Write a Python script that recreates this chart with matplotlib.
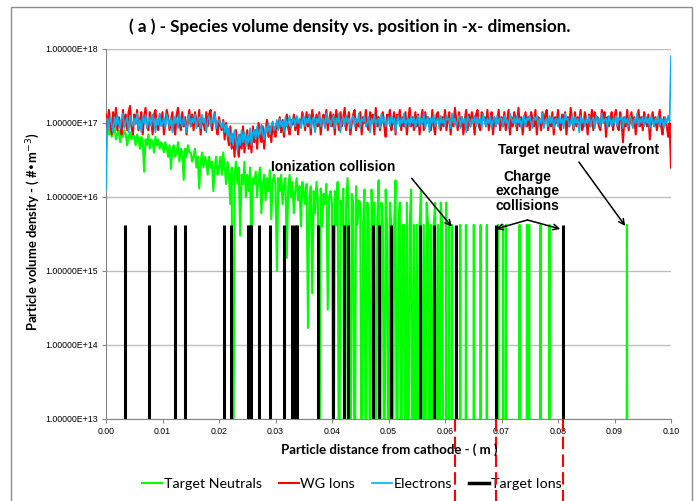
import numpy as np
import matplotlib
matplotlib.use("Agg")
import matplotlib.pyplot as plt
from matplotlib.patches import Rectangle
from matplotlib.ticker import FuncFormatter, NullLocator, LogLocator

# sampling step of the density profiles (m)
STEP = 0.00025

# WG Ions density, units of 1e16 #/m3, one value per STEP from 0 to 0.1
wg_ions = [
    13, 8, 15, 11, 7, 14, 9, 16, 8, 12, 10, 7, 15, 9, 13, 8, 14, 17, 9, 7,
    13, 10, 15, 8, 11, 14, 7, 12, 16, 9, 8, 14, 11, 7, 13, 15, 9, 8, 13, 10,
    14, 7, 10, 15, 12, 8, 11, 14, 9, 7, 13, 16, 10, 8, 14, 9, 12, 7, 11, 15,
    9, 13, 8, 14, 11, 9, 15, 7, 12, 10, 8, 14, 9, 13, 15, 8, 11, 14, 9, 7,
    12, 9, 8, 11, 6, 10, 7, 5, 9, 4.5, 7, 3.5, 8, 5, 3.5, 7, 4.5, 9, 4, 6,
    8, 4.5, 7, 4, 9, 5.5, 8, 4.5, 10, 6.5, 5.5, 9, 4.5, 8, 11, 6.5, 9, 5.5, 10, 7.5,
    6.5, 10, 8.5, 12, 7.5, 11, 6.5, 10, 13, 8.5, 7, 11, 9.5, 13, 8, 12, 7, 11, 9.5, 14,
    11, 8, 14, 9, 13, 7, 15, 11, 8, 13, 9, 14, 7, 11, 13, 9, 15, 8, 11, 14,
    9, 13, 7, 15, 11, 8, 14, 9, 12, 16, 8, 11, 14, 7, 10, 13, 15, 8, 11, 9,
    14, 7, 12, 10, 15, 9, 8, 14, 11, 13, 7, 16, 9, 12, 8, 11, 14, 9, 6.5, 13,
    11, 15, 8, 10, 14, 7, 13, 11, 15, 8, 12, 9, 14, 7, 11, 16, 9, 12, 8, 14,
    9, 13, 7, 11, 15, 8, 14, 10, 12, 11, 8, 15, 9, 7, 13, 14, 10, 8, 12, 9,
    15, 8, 11, 14, 7, 12, 9, 16, 11, 8, 14, 9, 12, 7, 11, 15, 8, 13, 9, 14,
    11, 7, 13, 15, 9, 8, 14, 11, 12, 9, 15, 8, 11, 14, 7, 12, 9, 11, 15, 8,
    12, 9, 14, 8, 11, 15, 7, 12, 9, 14, 11, 8, 16, 9, 12, 7, 11, 14, 9, 12,
    8, 14, 11, 9, 15, 7, 12, 11, 8, 14, 9, 13, 15, 8, 11, 9, 14, 7, 12, 10,
    15, 9, 8, 13, 11, 14, 7, 12, 9, 16, 11, 8, 14, 9, 12, 10, 15, 8, 9, 14,
    11, 7, 13, 9, 15, 8, 14, 11, 12, 9, 8, 15, 11, 14, 6.5, 12, 9, 11, 14, 8,
    12, 15, 9, 8, 14, 11, 5.5, 12, 9, 15, 8, 11, 14, 9, 12, 7, 11, 15, 9, 12,
    8, 14, 11, 9, 13, 6, 11, 14, 9, 12, 8, 11, 15, 9, 7, 12, 11, 9, 6.5, 10,
    2.5,
]

# Electrons density, units of 1e16 #/m3
electrons = [
    1.3, 11.5, 8.5, 12.5, 10, 7.5, 12, 9, 13, 10, 8.5, 11.5, 13.5, 8.5, 10.5, 12, 7.5, 12.5, 10, 9,
    11.5, 9.5, 13.5, 8.5, 11, 7.5, 12, 10, 13, 8.5, 10.5, 12, 9, 13, 10, 7.5, 11.5, 9.5, 13.5, 9,
    10, 12, 8.5, 13, 11, 9, 11.5, 7.5, 12.5, 10, 11.5, 8.5, 13.5, 10, 9, 12, 10, 7.5, 11.5, 13,
    9, 11.5, 10, 13, 8.5, 11, 12, 8.5, 13, 10, 11.5, 7.5, 11, 12.5, 9, 11.5, 10, 13.5, 8.5, 10.5,
    11, 9.5, 8.5, 10.5, 7.5, 9.5, 6.5, 8.5, 5.5, 7.5, 5, 8, 6, 4.2, 7, 5, 8, 5.5, 7.5, 4.8,
    7, 5.5, 8.5, 5, 7.5, 8, 6, 9, 6.5, 8, 9.5, 7, 6, 9, 7.5, 10, 7, 9, 10.5, 8,
    9, 11, 8, 11.5, 9, 10.5, 7.5, 12, 9, 10.5, 12.5, 8.5, 11, 11.5, 9, 12.5, 10, 11.5, 8.5, 11,
    12.5, 9, 11.5, 10, 13, 8.5, 11, 12, 7.5, 11.5, 10, 13, 9, 11, 11.5, 8.5, 13.5, 10, 11.5, 9,
    11, 12.5, 8.5, 11.5, 10, 13.5, 7.5, 11, 12, 9, 12.5, 10, 11.5, 8.5, 11, 12.5, 9, 11.5, 10, 13.5,
    8.5, 11.5, 10.5, 12.5, 9, 10, 12, 7.5, 11.5, 10, 13, 9, 11, 11.5, 8.5, 13.5, 10, 12, 9, 10.5,
    12, 9, 12.5, 10, 11.5, 7.5, 11, 12.5, 9, 11.5, 10, 13.5, 8.5, 11, 11.5, 9, 12.5, 10, 12, 8.5,
    11, 12.5, 9, 11.5, 10, 13.5, 8.5, 11, 12, 7.5, 11.5, 10, 13, 9, 11, 11.5, 8.5, 12.5, 10, 11.5,
    9, 12.5, 11, 11.5, 8.5, 13.5, 10, 11.5, 9, 11, 12.5, 8.5, 12, 10, 11.5, 7.5, 12.5, 11, 9, 11.5,
    10, 12.5, 9, 12, 10, 11.5, 8.5, 13.5, 11, 9, 11.5, 10, 12.5, 8.5, 11, 12, 9, 12.5, 10, 11.5,
    11.5, 9, 12.5, 10, 11, 8.5, 13.5, 11.5, 10, 12, 9, 12.5, 10, 11.5, 8.5, 11, 12.5, 9, 11.5, 11,
    12.5, 10, 8.5, 12, 11, 12.5, 9, 11.5, 10, 13.5, 8.5, 11, 11.5, 9, 12.5, 10, 12, 8.5, 11, 11.5,
    9, 12.5, 10, 11.5, 8.5, 13.5, 11, 11.5, 9, 10, 12.5, 8.5, 12, 10, 11.5, 7.5, 12.5, 10, 11.5, 9,
    11.5, 10, 12.5, 9, 11, 12, 8.5, 12.5, 10, 11.5, 9, 13.5, 10, 11, 11.5, 8.5, 12.5, 11, 9, 11.5,
    10, 12.5, 9, 11.5, 11, 12.5, 8.5, 12, 10, 11.5, 9, 12.5, 11, 8.5, 11.5, 10, 13.5, 9, 11.5, 10,
    12, 9, 12.5, 10, 11.5, 8.5, 12.5, 11, 9, 11.5, 10, 12.5, 9, 11.5, 11, 8.5, 12, 10, 12.5, 10.5,
    80,
]

# Target Neutrals density, units of 1e16 #/m3, dense part from 0 to ~0.06 m
target_neutrals = [
    10, 8, 7, 8.5, 6.5, 7.5, 9, 6, 7, 8, 5.5, 7.5, 6.5, 8, 7, 5, 6.5, 7.5, 6, 7,
    6.5, 5, 7, 6, 4.5, 6.5, 5.5, 2.2, 6, 5, 7, 4.5, 6, 5.5, 4, 6.5, 5, 6, 4.5, 5.5,
    5, 4, 5.5, 4.5, 3.5, 5, 2.4, 4.5, 5, 3.5, 4, 5.5, 3, 4.5, 4, 1.7, 4.5, 3.5, 5, 4,
    4, 3, 3.5, 4.5, 2.5, 3.5, 1.3, 3, 4, 2.5, 3.5, 3, 2, 3.5, 2.5, 3, 1.2, 2.5, 3.5, 2,
    2.5, 3.5, 2, 4, 2.5, 1.5, 3, 2, 0.8, 2.5, 0, 2, 3, 1.5, 2.5, 0.3, 2, 1.5, 3, 1,
    2, 1.2, 2.5, 0.13, 1.8, 1.5, 2.2, 1, 1.8, 2.5, 0.6, 1.5, 2, 0.9, 1.8, 1.2, 2.3, 0.5, 1.6, 2,
    1.5, 0.1, 1.8, 1.2, 2, 0.8, 1.5, 1.8, 0.15, 1.4, 2, 1, 1.6, 0.6, 1.2, 1.8, 0.9, 1.4, 0.4, 1.6,
    1.2, 0.8, 1.5, 0.017, 1, 1.4, 0.05, 1.2, 0.6, 1.6, 0.9, 0, 1.3, 0.4, 1.1, 0.8, 1.5, 0.03, 1, 1.2,
    0.8, 0, 1.2, 0.42, 1.6, 0, 0.9, 0.42, 1.3, 0, 0.84, 1.8, 0.42, 0, 1.1, 0.84, 0, 1.4, 0.42, 0.9,
    0.84, 0, 0.42, 1.26, 0, 0.84, 0.42, 0, 1.26, 0.42, 0.84, 0, 0.42, 1.68, 0, 0.84, 0.42, 0, 1.26, 0.42,
    0, 0.84, 0.42, 0, 0.42, 1.68, 0, 0.42, 0.84, 0, 0.42, 0.42, 0, 0.84, 0, 0.42, 1.26, 0, 0.42, 0,
    0.42, 0, 0.42, 1.26, 0, 0.42, 0, 0.84, 0.42, 0, 0.42, 0, 0.42, 0.84, 0, 0.42, 0, 0.84, 0.42, 0,
]

# isolated target-neutral spikes beyond the dense part (position m, value 1e16 #/m3)
neutral_spike_x = [0.0602, 0.0607, 0.0612, 0.0627, 0.0637, 0.0651, 0.0663, 0.0674,
                   0.0694, 0.0703, 0.0708, 0.0732, 0.0745, 0.0749, 0.0769, 0.0785, 0.0922]
neutral_spike_v = [0.84, 0.42, 0.42, 0.42, 0.42, 0.42, 0.42, 0.42,
                   0.42, 0.42, 0.42, 0.42, 0.42, 0.42, 0.42, 0.42, 0.42]

# target ion positions (m) and single-particle density
target_ion_x = [0.0034, 0.0076, 0.0122, 0.0139, 0.0209, 0.0221, 0.0251, 0.0254, 0.0257,
                0.0271, 0.0290, 0.0315, 0.0329, 0.0334, 0.0338, 0.0376, 0.0402, 0.0422,
                0.0428, 0.0473, 0.0484, 0.0505, 0.0555, 0.0580, 0.0620, 0.0690, 0.0808]
target_ion_level = 4.2e15

# red dashed markers below the axis
marker_x = [0.0618, 0.0690, 0.0808]

xticks = [0.00, 0.01, 0.02, 0.03, 0.04, 0.05, 0.06, 0.07, 0.08, 0.09, 0.10]

GREEN = "#00FF00"
RED = "#FF0000"
BLUE = "#00B0F0"
CAL = "Lato"
ARL = "Liberation Sans"


def dens(v):
    v = np.asarray(v, dtype=float) * 1e16
    return np.where(v > 0, v, 1e11)


x_wg = np.arange(len(wg_ions)) * STEP
x_el = np.arange(len(electrons)) * STEP
x_tn = np.arange(len(target_neutrals)) * STEP

# append the isolated spikes: zero - value - zero
d = 0.00008
sx, sv = [], []
for p, v in zip(neutral_spike_x, neutral_spike_v):
    sx += [p - d, p, p + d]
    sv += [0, v, 0]
x_tn_all = np.concatenate([x_tn, sx])
y_tn_all = dens(list(target_neutrals) + sv)

fig = plt.figure(figsize=(6.99, 5.01), dpi=100)
ax = fig.add_axes([106 / 699, 82 / 501, 565 / 699, 370 / 501])

ax.plot(x_tn_all, y_tn_all, color=GREEN, lw=1.5, label="Target Neutrals", zorder=3)
ax.plot(x_wg, dens(wg_ions), color=RED, lw=1.5, label="WG Ions", zorder=4)
ax.plot(x_el, dens(electrons), color=BLUE, lw=1.2, label="Electrons", zorder=5)
ax.vlines(target_ion_x, 1e11, target_ion_level, color="black", lw=2.2, zorder=6)
ax.plot([], [], color="black", lw=2.5, label="Target Ions")

ax.set_yscale("log")
ax.set_ylim(1e13, 1e18)
ax.set_xlim(0, 0.1)
ax.yaxis.set_major_locator(LogLocator(base=10, numticks=10))
ax.yaxis.set_minor_locator(NullLocator())
ax.yaxis.set_major_formatter(FuncFormatter(lambda v, p: f"{v:.5E}"))
ax.set_xticks(xticks)
ax.xaxis.set_major_formatter(FuncFormatter(lambda v, p: f"{v:.2f}"))
ax.tick_params(axis="both", length=3, color="#868686", labelsize=6.3, pad=3)
for lab in ax.get_xticklabels() + ax.get_yticklabels():
    lab.set_fontfamily(ARL)
ax.grid(axis="y", color="#BEBEBE", lw=1)
ax.set_axisbelow(True)
for s in ["top", "right"]:
    ax.spines[s].set_visible(False)
for s in ["left", "bottom"]:
    ax.spines[s].set_color("#868686")

fig.text(350 / 699, 1 - 27 / 501, "( a ) - Species volume density vs. position in -x- dimension.",
         ha="center", va="center", fontsize=12.3, fontweight="bold", family=CAL)
fig.text(389 / 699, 1 - 450 / 501, "Particle distance from cathode - ( m )",
         ha="center", va="center", fontsize=9.5, fontweight="bold", family=CAL)
fig.text(33 / 699, 1 - 232 / 501, "Particle volume density - ( #\u2022m$^{-3}$)",
         ha="center", va="center", rotation=90, fontsize=9.4, fontweight="bold", family=CAL)

# annotations
akw = dict(arrowstyle="->", color="black", lw=1.1, shrinkA=0, shrinkB=0)
tkw = dict(fontsize=10, fontweight="bold", family=ARL, ha="center", va="center")
ax.annotate("", xy=(0.0612, 3.97e15), xytext=(0.0541, 1.79e16), arrowprops=akw, zorder=7)
ax.text(0.0402, 2.54e16, "Ionization collision", zorder=8, **tkw)
ax.annotate("", xy=(0.0919, 4.06e15), xytext=(0.0837, 2.97e16), arrowprops=akw, zorder=7)
ax.text(0.0837, 4.32e16, "Target neutral wavefront", **tkw)
ax.annotate("", xy=(0.0690, 3.7e15), xytext=(0.0746, 4.89e15), arrowprops=akw, zorder=7)
ax.annotate("", xy=(0.0804, 3.7e15), xytext=(0.0746, 4.89e15), arrowprops=akw, zorder=7)
ax.text(0.0746, 1.2e16, "Charge\nexchange\ncollisions", linespacing=1.05, **tkw)

# red dashed markers below the axis
tr = ax.get_xaxis_transform()
for p in marker_x:
    ax.plot([p, p], [0, -0.25], transform=tr, color=RED, lw=1.5, ls=(0, (6, 2.5)),
            clip_on=False, zorder=9)

leg = ax.legend(loc="center", bbox_to_anchor=(0.435, -0.175), ncol=4, frameon=False,
                handlelength=1.4, handletextpad=0.1, columnspacing=1.2,
                prop={"family": CAL, "size": 10.3})

# outer chart frame
fig.patches.append(Rectangle((11 / 699, -0.02), 681 / 699, 1.02 - 7 / 501,
                             transform=fig.transFigure, fill=False, ec="#8C8C8C", lw=1))

fig.savefig("out.png", dpi=100)
